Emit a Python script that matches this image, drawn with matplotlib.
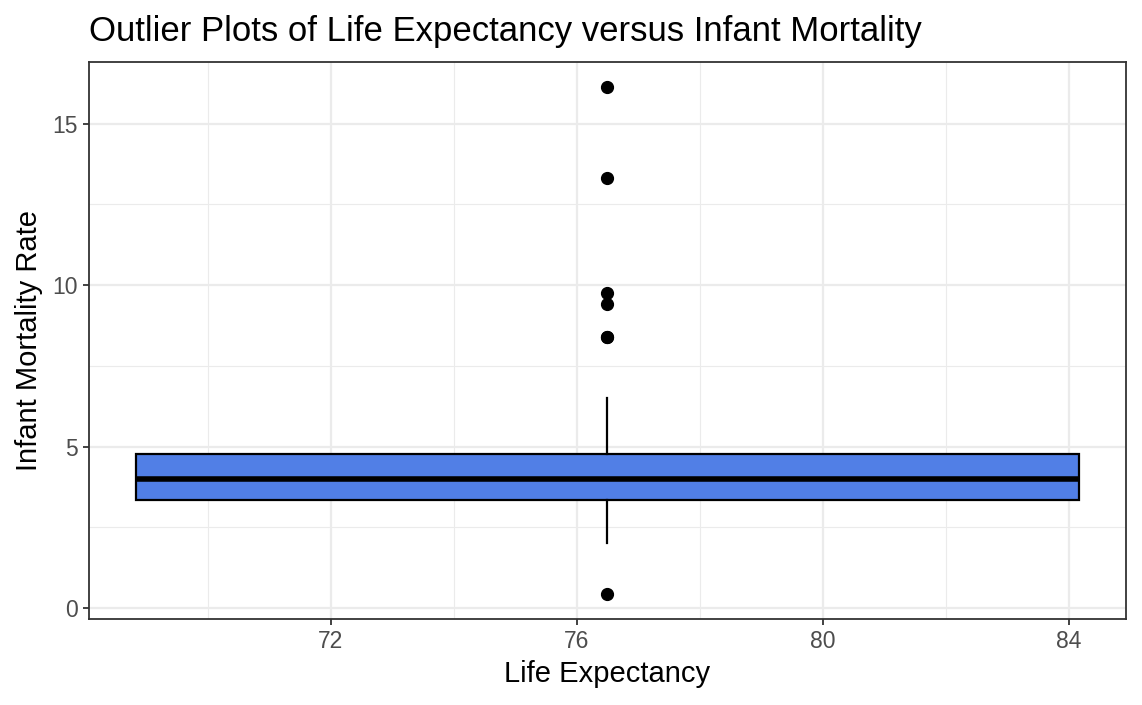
import matplotlib
matplotlib.use("Agg")
import matplotlib.pyplot as plt
from matplotlib.ticker import MultipleLocator, FixedLocator

plt.rcParams['font.family'] = ['Liberation Sans', 'DejaVu Sans']

# ---- data ----
life_expectancy_center = 76.5
life_expectancy_span = 15.33          # width of the box along Life Expectancy
q1 = 3.36
median = 3.99
q3 = 4.76
whisker_low = 2.01
whisker_high = 6.49
outliers = [16.12, 13.31, 9.77, 9.40, 8.38, 8.38, 0.44]

x_ticks = [72, 76, 80, 84]
y_ticks = [0, 5, 10, 15]

title = "Outlier Plots of Life Expectancy versus Infant Mortality"
x_label = "Life Expectancy"
y_label = "Infant Mortality Rate"

# ---- figure ----
W, H = 1142, 705
fig = plt.figure(figsize=(W / 100, H / 100), dpi=100)
ax = fig.add_axes([89 / W, 1 - 619.3 / H, (1126 - 89) / W, (619.3 - 62) / H])

grid_col = "#EBEBEB"
ax.set_axisbelow(True)

stats = [dict(med=median, q1=q1, q3=q3, whislo=whisker_low, whishi=whisker_high,
              fliers=outliers)]
ax.bxp(stats, positions=[life_expectancy_center], widths=[life_expectancy_span],
       patch_artist=True, showcaps=False,
       boxprops=dict(facecolor="#517FE6", edgecolor="black", linewidth=1.6),
       medianprops=dict(color="black", linewidth=4.0, solid_capstyle="butt"),
       whiskerprops=dict(color="black", linewidth=1.6),
       flierprops=dict(marker="o", markerfacecolor="black", markeredgecolor="black",
                       markersize=8.5, linestyle="none"),
       manage_ticks=False, zorder=3)

lo = life_expectancy_center - life_expectancy_span / 2
hi = life_expectancy_center + life_expectancy_span / 2
pad = 0.05 * (hi - lo)
ax.set_xlim(lo - pad, hi + pad)
ymin, ymax = min(outliers), max(outliers)
ypad = 0.05 * (ymax - ymin)
ax.set_ylim(ymin - ypad, ymax + ypad)

ax.xaxis.set_major_locator(FixedLocator(x_ticks))
ax.yaxis.set_major_locator(FixedLocator(y_ticks))
ax.xaxis.set_minor_locator(MultipleLocator(2))
ax.yaxis.set_minor_locator(MultipleLocator(2.5))

ax.grid(which="major", color=grid_col, linewidth=1.6)
ax.grid(which="minor", color=grid_col, linewidth=0.8)

for s in ax.spines.values():
    s.set_color("#333333")
    s.set_linewidth(1.3)

ax.tick_params(which="major", length=4.5, width=1.3, color="#333333",
               labelsize=16.5, labelcolor="#4D4D4D", pad=3.5)
ax.tick_params(which="minor", length=0)

ax.set_xlabel(x_label, fontsize=21, color="black", labelpad=5)
ax.set_ylabel(y_label, fontsize=21, color="black", labelpad=7)

fig.text(89 / W, 1 - 41 / H, title, fontsize=25, color="black",
         ha="left", va="baseline")

fig.savefig("out.png", dpi=100)
